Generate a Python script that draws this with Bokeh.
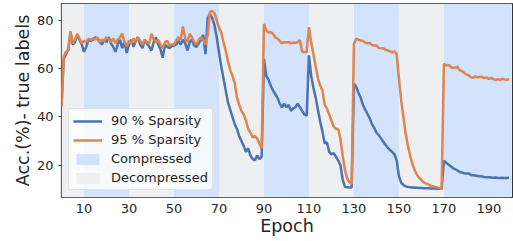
from bokeh.plotting import figure
from bokeh.models import Range1d, FixedTicker, Legend, LegendItem
from bokeh.embed import file_html
from bokeh.resources import INLINE

# ---------------- data ----------------
epochs = list(range(200))

sparsity90 = [
    45, 64, 66, 68, 75, 70, 71, 74, 72, 70,
    67, 69, 72, 71.5, 72, 73, 72.5, 71, 70, 72, 71, 73, 70.5, 69, 67, 70, 72, 68.5, 71, 66.5,
    70, 72, 69, 71.5, 73, 70, 68.5, 72, 70.5, 69, 67.5, 71, 73, 70, 68, 64.5, 70, 69, 68.5, 69.5,
    69.5, 70, 71.5, 70, 72, 70.5, 67.5, 71, 72, 69.5, 69, 70.5, 72, 74, 66, 81, 82.5, 81, 78, 73,
    67, 61, 56, 51, 46, 43, 40, 37, 35, 32, 30, 28, 25.5, 27, 24, 22.5, 22, 24, 22.5, 23.5,
    64, 57, 55.5, 53, 51, 49.5, 48, 45.5, 44, 45.5, 44, 45, 42.5, 43.5, 44, 45.5, 44, 42.5, 41, 40.5,
    65.5, 57, 52, 48, 43, 38, 34, 29, 29.5, 25.5, 24.5, 25, 23.5, 22, 20, 14, 11, 10.8, 10.7, 10.8,
    53.7, 52.5, 50, 48, 45, 43, 41.3, 39.5, 37, 35.5, 33.5, 32.5, 31.2, 29.8, 28.5, 27.3, 26.3, 25.5, 24.5, 22,
    15.5, 12.8, 11.8, 11.2, 11, 10.8, 10.7, 10.6, 10.6, 10.5, 10.5, 10.4, 10.4, 10.4, 10.3, 10.3, 10.3, 10.2, 10.2, 10.2,
    21.9, 21, 20.3, 19.6, 18.8, 18.3, 17.8, 17.2, 17, 16.6, 16.5, 16.6, 15.9, 15.8, 15.7, 15.5, 15.4, 15.3, 15.1, 15,
    15, 14.9, 14.8, 14.9, 14.7, 14.7, 14.8, 14.7, 14.7, 14.8,
]

sparsity95 = [
    44, 65, 67, 67.5, 75.5, 70.5, 72, 74.5, 72.5, 70.5,
    71.5, 71, 72.5, 72, 72.5, 72, 73, 71, 72, 71.5, 73, 72, 71, 72.5, 70.5, 72, 73, 74.5, 71, 69.5,
    71.5, 70.5, 72.5, 71, 73, 71.5, 70, 72, 71, 70.5, 74.5, 72, 71, 72, 70, 68.5, 71, 71.5, 69.5, 70,
    70, 71.5, 73, 72, 77.5, 72.5, 71, 74.5, 73, 71, 70, 72, 73, 72, 70, 74, 83.5, 84, 83, 80,
    77, 75, 71, 67.5, 63, 59.5, 57, 54, 48, 45, 42.5, 41, 38.5, 35, 33.5, 31.5, 32, 31, 29, 27,
    78.5, 76, 75, 75.2, 74.5, 73, 72.5, 71.5, 70.5, 71, 70.8, 71, 70.5, 70.8, 70.7, 71, 71.8, 67, 66.8, 67,
    77.2, 71, 66, 61, 56, 53, 51, 45, 43.5, 41, 38.5, 36, 35, 35, 31, 24, 18, 14.5, 12.9, 12.2,
    70.3, 72.4, 72, 71.7, 71.6, 70.8, 70.5, 70.6, 69.8, 69.6, 69.7, 68.6, 68.4, 68.5, 67.8, 67.6, 67.2, 66.8, 67, 66.2,
    56, 47, 40, 33, 28, 24, 20.5, 18, 16, 14.8, 13.8, 12.9, 12.4, 12, 11.5, 11.3, 11, 10.8, 10.5, 10.2,
    62, 61.3, 61.5, 60.8, 60.2, 60.5, 60.8, 59.4, 59, 58.2, 57.6, 57.2, 56.5, 56.2, 56.8, 56.4, 56.5, 56.6, 56.1, 56.3,
    55.8, 56.2, 55.7, 55.3, 55.6, 55.4, 55.7, 55.5, 55.4, 55.6,
]

compressed_start = [10, 50, 90, 130, 170]
compressed_end = [30, 70, 110, 150, 200]
decompressed_start = [0, 30, 70, 110, 150]
decompressed_end = [10, 50, 90, 130, 170]

x_ticks = [10, 30, 50, 70, 90, 110, 130, 150, 170, 190]
y_ticks = [20, 40, 60, 80]
x_lo, x_hi = 0, 200.5
y_lo, y_hi = 6.6, 87.0

# ---------------- style ----------------
FONT = "DejaVu Sans"
TXT = "#262626"
BLUE = "#4c72b0"
ORANGE = "#dd8452"
COMP = "#d2e3fb"
DECOMP = "#eeeff1"

p = figure(width=513, height=241, output_backend="svg", toolbar_location=None,
           x_range=Range1d(x_lo, x_hi), y_range=Range1d(y_lo, y_hi))
p.min_border_left = 61
p.min_border_right = 1
p.min_border_top = 3
p.min_border_bottom = 44
p.background_fill_color = "white"
p.border_fill_color = "white"
p.outline_line_color = "#333333"
p.outline_line_width = 1.2
p.grid.visible = False

n_c = len(compressed_start)
n_d = len(decompressed_start)
r_comp = p.quad(left=compressed_start, right=compressed_end,
                bottom=[y_lo] * n_c, top=[y_hi] * n_c,
                fill_color=COMP, line_color=None)
r_decomp = p.quad(left=decompressed_start, right=decompressed_end,
                  bottom=[y_lo] * n_d, top=[y_hi] * n_d,
                  fill_color=DECOMP, line_color=None)

r90 = p.line(epochs, sparsity90, line_color=BLUE, line_width=2.5)
r95 = p.line(epochs, sparsity95, line_color=ORANGE, line_width=2.5)

legend = Legend(items=[
    LegendItem(label="90 % Sparsity", renderers=[r90]),
    LegendItem(label="95 % Sparsity", renderers=[r95]),
    LegendItem(label="Compressed", renderers=[r_comp], index=0),
    LegendItem(label="Decompressed", renderers=[r_decomp], index=0),
], location="bottom_left")
legend.margin = 7
legend.padding = 4
legend.spacing = 4
legend.glyph_width = 29
legend.glyph_height = 14
legend.label_height = 14
legend.label_standoff = 9
legend.label_text_font = FONT
legend.label_text_font_size = "13px"
legend.label_text_color = TXT
legend.background_fill_color = "white"
legend.background_fill_alpha = 0.8
legend.border_line_color = "#cccccc"
legend.border_line_width = 1
if "border_radius" in Legend.properties():
    legend.border_radius = 3
p.add_layout(legend)

# axes
p.xaxis.ticker = FixedTicker(ticks=x_ticks)
p.yaxis.ticker = FixedTicker(ticks=y_ticks)
for ax in (p.xaxis, p.yaxis):
    ax.axis_line_color = None
    ax.minor_tick_line_color = None
    ax.major_label_text_font = FONT
    ax.major_label_text_font_size = "13px"
    ax.major_label_text_color = TXT
    ax.axis_label_text_font = FONT
    ax.axis_label_text_font_size = "17.5px"
    ax.axis_label_text_font_style = "normal"
    ax.axis_label_text_color = TXT
p.xaxis.major_tick_out = 0
p.xaxis.major_tick_in = 0
p.xaxis.major_label_standoff = 6
p.xaxis.axis_label = "Epoch"
p.xaxis.axis_label_standoff = 0
p.yaxis.major_tick_out = 3
p.yaxis.major_tick_in = 0
p.yaxis.major_tick_line_color = "#333333"
p.yaxis.major_label_standoff = 5
p.yaxis.axis_label = "Acc.(%)- true labels"
p.yaxis.axis_label_standoff = 1

open("out.html", "w").write(file_html(p, INLINE))
